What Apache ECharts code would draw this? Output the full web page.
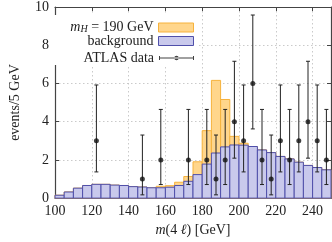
<!DOCTYPE html>
<html><head><meta charset="utf-8">
<script src="https://cdn.jsdelivr.net/npm/echarts@6/dist/echarts.min.js"></script>
<style>html,body{margin:0;padding:0;background:#fff}#c{width:332px;height:242px}</style>
</head><body><div id="c"></div>
<script>
// ---- data ----
const binLow  = [100,105,110,115,120,125,130,135,140,145,150,155,160,165,170,175,180,185,190,195,200,205,210,215,220,225,230,235,240,245];
const binHigh = [105,110,115,120,125,130,135,140,145,150,155,160,165,170,175,180,185,190,195,200,205,210,215,220,225,230,235,240,245,250];
const background = [0.15,0.32,0.52,0.66,0.72,0.72,0.68,0.66,0.60,0.58,0.54,0.54,0.57,0.66,0.88,1.23,1.78,2.36,2.68,2.78,2.77,2.70,2.52,2.38,2.18,2.05,1.88,1.71,1.60,1.48];
const withSignal = [0.15,0.32,0.52,0.66,0.72,0.72,0.68,0.66,0.60,0.58,0.54,0.62,0.65,0.83,1.13,1.90,3.53,6.16,5.16,3.23,2.87,2.70,2.52,2.38,2.18,2.05,1.88,1.71,1.60,1.48];
const dataX   = [122.5,147.5,157.5,172.5,182.5,187.5,192.5,197.5,202.5,207.5,212.5,217.5,222.5,227.5,232.5,237.5,242.5,247.5];
const dataY   = [3,1,2,2,2,1,2,4,3,6,2,1,3,2,3,4,3,2];
const errLow  = [1.37,0.17,0.71,0.71,0.71,0.17,0.71,2.09,1.37,3.62,0.71,0.17,1.37,0.71,1.37,2.09,1.37,0.71];
const errHigh = [5.92,3.30,4.64,4.64,4.64,3.30,4.64,7.16,5.92,9.58,4.64,3.30,5.92,4.64,5.92,7.16,5.92,4.64];
const xTicks = [100,120,140,160,180,200,220,240];
const yTicks = [0,2,4,6,8,10];

const FONT = '"Liberation Serif", "DejaVu Serif", serif';
const sigName = 'mH';
const bgName = 'background';
const dName = 'ATLAS data';
const ORANGE_FILL = '#ffd68c', ORANGE_LINE = '#f6b23c';
const BLUE_FILL = '#c9c9ec', BLUE_LINE = '#4f4faa';

function histRender(fill, stroke) {
  return function (params, api) {
    const p0 = api.coord([api.value(0), 0]);
    const p1 = api.coord([api.value(1), api.value(2)]);
    return { type: 'rect',
      shape: { x: p0[0], y: p1[1], width: p1[0] - p0[0], height: p0[1] - p1[1] },
      style: { fill: fill, stroke: stroke, lineWidth: 1 } };
  };
}
function errRender(params, api) {
  const x = api.value(0);
  const lo = api.coord([x, api.value(1)]);
  const hi = api.coord([x, api.value(2)]);
  const cw = 2;
  const st = { stroke: '#222', lineWidth: 1 };
  return { type: 'group', children: [
    { type: 'line', shape: { x1: lo[0], y1: lo[1], x2: hi[0], y2: hi[1] }, style: st },
    { type: 'line', shape: { x1: lo[0] - cw, y1: lo[1], x2: lo[0] + cw, y2: lo[1] }, style: st },
    { type: 'line', shape: { x1: hi[0] - cw, y1: hi[1], x2: hi[0] + cw, y2: hi[1] }, style: st }
  ]};
}

const sigData = binLow.map((b, i) => [b, binHigh[i], withSignal[i]]);
const bgData = binLow.map((b, i) => [b, binHigh[i], background[i]]);
const ptData = dataX.map((x, i) => [x, dataY[i]]);
const errData = dataX.map((x, i) => [x, errLow[i], errHigh[i]]);

const dataIcon = 'path://M0,0 M35,9 M0,4 H35 V5 H0 Z M0,2.5 H1 V6.5 H0 Z M34,2.5 H35 V6.5 H34 Z M15.3,4.5 A2.2,2.2 0 1,0 19.7,4.5 A2.2,2.2 0 1,0 15.3,4.5 Z';

const legendText = {
  fontFamily: FONT, fontSize: 14, color: '#222', lineHeight: 14,
  rich: {
    i: { fontFamily: FONT, fontStyle: 'italic', fontSize: 14, color: '#222', lineHeight: 14 },
    s: { fontFamily: FONT, fontStyle: 'italic', fontSize: 10, color: '#222', lineHeight: 8, verticalAlign: 'bottom' },
    n: { fontFamily: FONT, fontSize: 14, color: '#222', lineHeight: 14 }
  }
};
function makeLegend(item, top) {
  return {
    orient: 'vertical', right: 138, top: top, align: 'right',
    itemWidth: 35, itemHeight: 9, padding: 0, selectedMode: false, z: 6,
    textStyle: legendText,
    formatter: function (name) {
      if (name === sigName) return '{i|m}{s|H}{n| = 190 GeV}';
      return '{n|' + name + '}';
    },
    data: [item]
  };
}

const chart = echarts.init(document.getElementById('c'), null, { renderer: 'canvas' });
chart.setOption({
  animation: false,
  backgroundColor: '#fff',
  textStyle: { fontFamily: FONT },
  grid: { left: 50, right: 1, top: 5, bottom: 37.5, containLabel: false },
  graphic: [{ type: 'rect', z: 1, silent: true,
    shape: { x: 51, y: 15, width: 148, height: 50 }, style: { fill: '#fff' } }],
  legend: [
    makeLegend({ name: sigName, icon: 'rect', itemStyle: { color: ORANGE_FILL, borderColor: ORANGE_LINE, borderWidth: 1 } }, 20.5),
    makeLegend({ name: bgName, icon: 'rect', itemStyle: { color: BLUE_FILL, borderColor: BLUE_LINE, borderWidth: 1 } }, 34),
    makeLegend({ name: dName, icon: dataIcon, itemStyle: { color: '#111' } }, 51)
  ],
  xAxis: [{
    type: 'value', min: 100, max: 250, interval: 20,
    axisLine: { show: true, onZero: false, lineStyle: { color: '#444', width: 1.2 } },
    axisTick: { show: true, inside: true, length: 4, lineStyle: { color: '#444' } },
    axisLabel: { show: true, margin: 6, fontFamily: FONT, fontSize: 14, color: '#222', showMaxLabel: false },
    splitLine: { show: true, lineStyle: { color: '#bdbdbd', type: [1.5, 2.5], width: 0.8 } },
    name: '{i|m}(4 {i|ℓ}) [GeV]', nameLocation: 'middle', nameGap: 20,
    nameTextStyle: { fontFamily: FONT, fontSize: 14, color: '#222',
      rich: { i: { fontFamily: FONT, fontStyle: 'italic', fontSize: 14, color: '#222' } } }
  }, {
    type: 'value', min: 100, max: 250, interval: 20, position: 'top',
    axisLine: { show: true, onZero: false, lineStyle: { color: '#444', width: 1.2 } },
    axisTick: { show: true, inside: true, length: 4, lineStyle: { color: '#444' } },
    axisLabel: { show: false }, splitLine: { show: false }
  }],
  yAxis: [{
    type: 'value', min: 0, max: 10, interval: 2,
    axisLine: { show: true, onZero: false, lineStyle: { color: '#444', width: 1.2 } },
    axisTick: { show: true, inside: true, length: 4, lineStyle: { color: '#444' } },
    axisLabel: { show: true, margin: 6, fontFamily: FONT, fontSize: 14, color: '#222' },
    splitLine: { show: true, lineStyle: { color: '#bdbdbd', type: [1.5, 2.5], width: 0.8 } },
    name: 'events/5 GeV', nameLocation: 'middle', nameGap: 33,
    nameTextStyle: { fontFamily: FONT, fontSize: 14, color: '#222' }
  }, {
    type: 'value', min: 0, max: 10, interval: 2, position: 'right',
    axisLine: { show: true, onZero: false, lineStyle: { color: '#444', width: 1.2 } },
    axisTick: { show: true, inside: true, length: 4, lineStyle: { color: '#444' } },
    axisLabel: { show: false }, splitLine: { show: false }
  }],
  series: [
    { name: sigName, type: 'custom', renderItem: histRender(ORANGE_FILL, ORANGE_LINE), data: sigData,
      encode: { x: [0, 1], y: 2 }, itemStyle: { color: ORANGE_FILL }, z: 2 },
    { name: bgName, type: 'custom', renderItem: histRender(BLUE_FILL, BLUE_LINE), data: bgData,
      encode: { x: [0, 1], y: 2 }, itemStyle: { color: BLUE_FILL }, z: 3 },
    { name: dName + ' errors', type: 'custom', renderItem: errRender, data: errData,
      encode: { x: 0, y: [1, 2] }, z: 4 },
    { name: dName, type: 'scatter', data: ptData, symbol: 'circle', symbolSize: 5,
      itemStyle: { color: '#111' }, z: 5 }
  ]
});
</script></body></html>
